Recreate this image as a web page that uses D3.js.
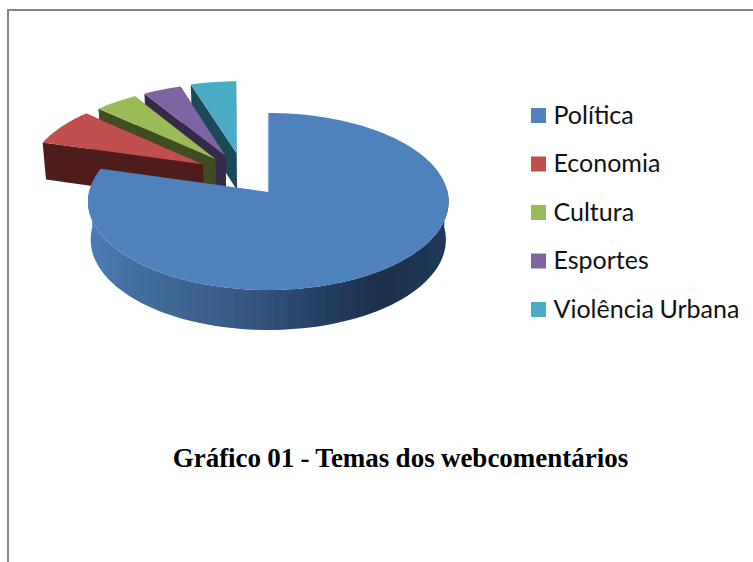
<!DOCTYPE html>
<html><head><meta charset="utf-8">
<script src="https://cdn.jsdelivr.net/npm/d3@7"></script>
<style>html,body{margin:0;padding:0;background:#fff;overflow:hidden}svg{display:block}</style>
</head><body><svg id="c" width="753" height="562"></svg>
<script>
const categories = ["Política","Economia","Cultura","Esportes","Violência Urbana"];
const values = [79.4,7.3,4.5,4.0,4.8];
const explode = [0,0.5,0.5,0.5,0.5];
const topColors = ["#4f81bd","#c0504d","#9bbb59","#8064a2","#4bacc6"];
const wallColors = ["#1f3a5a","#4f1f1c","#3f4d22","#35294a","#1e4a56"];
const chartTitle = "Gráfico 01 - Temas dos webcomentários";

const svg = d3.select("#c");
const defs = svg.append("defs");
const soft = defs.append("filter").attr("id","soft");
soft.append("feGaussianBlur").attr("stdDeviation",0.35);
const grad = defs.append("linearGradient").attr("id","wall").attr("gradientUnits","userSpaceOnUse")
  .attr("x1",88).attr("x2",449).attr("y1",0).attr("y2",0);
[[0,"#4a7cb5"],[0.12,"#44709f"],[0.35,"#3a5f8a"],[0.55,"#2d4b72"],[0.7,"#213a5a"],[0.82,"#1c3049"],[1,"#203a5c"]]
  .forEach(([o,c])=>grad.append("stop").attr("offset",o).attr("stop-color",c));

// pie plane -> screen (perspective)
const cx=268.3, cy=192, k=-0.107, a=87.5, b=179.3;
const proj=(u,v)=>[cx+b*u/(1+k*v), cy+a*v/(1+k*v)];
const lower=(u,v)=>{const p=proj(u,v);return [cx+(p[0]-cx)*0.985, p[1]+38+2*v];};

const pie=d3.pie().sort(null).value(d=>d)(values);
const deg=Math.PI/180;
const t0=pie[0].endAngle;
// exploded slices turn slightly further with the perspective
const twist=t=>t>t0+1e-6?t-1.2*deg*(t-t0)/(2*Math.PI-t0):t;
// explosion direction lies between the slice bisector and the mean direction of the group
const offset=(d,i)=>{
  if(!explode[i]) return [0,0];
  const bis=(d.startAngle+d.endAngle)/2;
  const dir=2*Math.PI-(17.3*deg+0.52*(2*Math.PI-bis));
  return [explode[i]*Math.sin(dir),-explode[i]*Math.cos(dir)];
};
const line=d3.line();
const arcPts=(d,o,i)=>{
  const n=Math.max(8,Math.ceil((d.endAngle-d.startAngle)/deg/2));
  return d3.range(n+1).map(j=>{
    const raw=d.startAngle+(d.endAngle-d.startAngle)*j/n;
    const t=i>0?twist(raw):raw;
    return [o[0]+Math.sin(t),o[1]-Math.cos(t)];
  });
};
const g=svg.append("g").attr("filter","url(#soft)");
// painter's order: back slices first, the large slice last
[4,3,2,1,0].forEach(i=>{
  const d=pie[i], o=offset(d,i), pts=arcPts(d,o,i), apex=o;
  if(i>0){
    [pts[0],pts[pts.length-1]].forEach(s=>{
      g.append("path").attr("d",line([proj(...s),proj(...apex),lower(...apex),lower(...s)])+"Z").attr("fill",wallColors[i]);
    });
  } else {
    const s=pts[0];
    g.append("path").attr("d",line([proj(...s),proj(...apex),lower(...apex),lower(...s)])+"Z").attr("fill",wallColors[0]);
    const rim=pts.filter(p=>p[1]>=-0.06);
    g.append("path").attr("d",line(rim.map(p=>proj(...p)).concat(rim.slice().reverse().map(p=>lower(...p))))+"Z").attr("fill","url(#wall)");
  }
  g.append("path").attr("d",line([proj(...apex)].concat(pts.map(p=>proj(...p))))+"Z").attr("fill",topColors[i]);
});

// frame: the reference shows only the top and left edges
svg.append("path").attr("d","M8,562V10H753").attr("fill","none").attr("stroke","#868686").attr("stroke-width",2);

// legend
const y=d3.scalePoint().domain(categories).range([115.5,309.5]);
const leg=svg.append("g").selectAll("g").data(categories).join("g").attr("transform",d=>`translate(0,${y(d)})`);
leg.append("rect").attr("x",531).attr("y",-7.5).attr("width",15).attr("height",15).attr("fill",(d,i)=>topColors[i]);
leg.append("text").attr("x",553.5).attr("y",8).attr("font-family","Lato, sans-serif").attr("font-size",25).attr("word-spacing",-1).attr("fill","#111").text(d=>d);

svg.append("text").attr("x",400.5).attr("y",467).attr("text-anchor","middle")
  .attr("font-family","'Liberation Serif', serif").attr("font-weight","bold").attr("font-size",27).attr("word-spacing",-0.5).attr("fill","#000").text(chartTitle);
</script></body></html>
